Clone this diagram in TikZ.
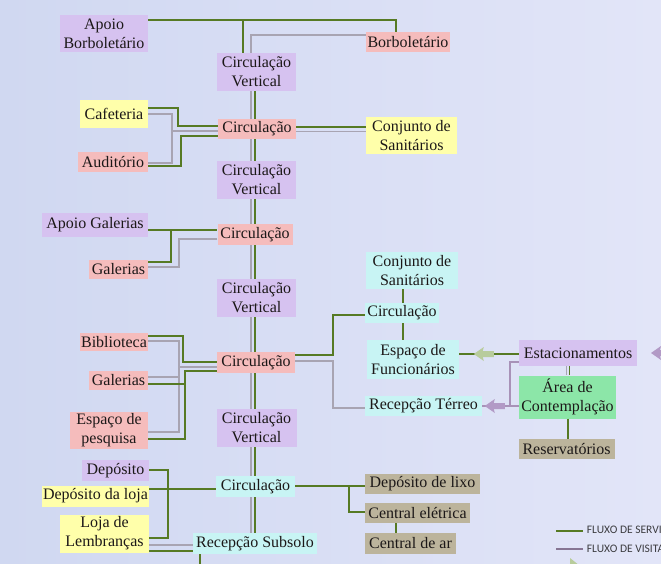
\documentclass[tikz,border=0pt]{standalone}
\usepackage{fontspec}
\setmainfont{Liberation Serif}
\newfontfamily\legfont{Carlito}
\usetikzlibrary{decorations.markings}
\definecolor{bgA}{RGB}{208,216,241}
\definecolor{bgB}{RGB}{226,229,248}
\definecolor{cPurple}{RGB}{214,194,240}
\definecolor{cPink}{RGB}{245,188,188}
\definecolor{cYellow}{RGB}{255,255,170}
\definecolor{cCyan}{RGB}{200,244,244}
\definecolor{cTan}{RGB}{188,180,156}
\definecolor{cGreen}{RGB}{140,230,168}
\definecolor{lnG}{RGB}{86,122,36}
\definecolor{lnY}{RGB}{168,164,178}
\definecolor{lnM}{RGB}{168,146,184}
\definecolor{arG}{RGB}{184,204,156}
\definecolor{arM}{RGB}{178,154,198}
\definecolor{txt}{RGB}{28,24,24}
\definecolor{legtxt}{RGB}{60,60,64}
\begin{document}
\begin{tikzpicture}[x=1pt,y=-1pt,
  box/.style={inner sep=0pt, align=center, font=\fontsize{16}{19}\selectfont, text=txt},
  sz/.style 2 args={minimum width=#1pt, minimum height=#2pt},
  pu/.style={box, fill=cPurple},
  pk/.style={box, fill=cPink},
  ye/.style={box, fill=cYellow},
  cy/.style={box, fill=cCyan},
  tn/.style={box, fill=cTan},
  gr/.style={box, fill=cGreen},
  gl/.style={draw=lnG, line width=2.4pt},
  yl/.style={draw=lnY, line width=1.2pt},
  ml/.style={draw=lnM, line width=1.4pt},
  legtext/.style={anchor=west, inner sep=0pt, font=\legfont\fontsize{11.5}{13}\selectfont, text=legtxt},
]
\useasboundingbox (0,0) rectangle (661,564);
\clip (0,0) rectangle (661,564);
\shade[left color=bgA, right color=bgB] (0,0) rectangle (661,564);

% nodes
\node[pu, sz={88}{37}] (apb) at (104,33.5) {Apoio\\Borboletário};
\node[pk, sz={84}{20}] (borb) at (408,42) {Borboletário};
\node[pu, sz={79}{38}] (cv1) at (256.5,72) {Circulação\\Vertical};
\node[ye, sz={68}{28}] (caf) at (114,114) {Cafeteria};
\node[pk, sz={78}{20}] (c2) at (257,129) {Circulação};
\node[ye, sz={91}{37}] (cs1) at (411.5,135.5) {Conjunto de\\Sanitários};
\node[pk, sz={70}{20}] (aud) at (113,162) {Auditório};
\node[pu, sz={79}{38}] (cv2) at (256.5,180) {Circulação\\Vertical};
\node[pu, sz={106}{24}] (apg) at (95,225) {Apoio Galerias};
\node[pk, sz={75}{21}] (c3) at (255,234.5) {Circulação};
\node[pk, sz={59}{19}] (gal1) at (118.5,269.5) {Galerias};
\node[pu, sz={79}{38}] (cv3) at (256.5,298) {Circulação\\Vertical};
\node[pk, sz={68}{18}] (bib) at (114,342) {Biblioteca};
\node[pk, sz={78}{21}] (c4) at (256,362.5) {Circulação};
\node[pk, sz={59}{19}] (gal2) at (118.5,380.5) {Galerias};
\node[pk, sz={78}{37}] (esp) at (109,430.5) {Espaço de\\pesquisa};
\node[pu, sz={80}{38}] (cv4) at (256.5,428) {Circulação\\Vertical};
\node[pu, sz={67}{21}] (dep) at (115.5,470.5) {Depósito};
\node[ye, sz={107}{21}] (depl) at (95.5,496) {Depósito da loja};
\node[ye, sz={89}{38}] (loja) at (104.5,533.5) {Loja de\\Lembranças};
\node[cy, sz={79}{21}] (c5) at (255.5,486.5) {Circulação};
\node[cy, sz={124}{21}] (recs) at (255,543.5) {Recepção Subsolo};
\node[tn, sz={115}{20}] (dlixo) at (422.5,484) {Depósito de lixo};
\node[tn, sz={105}{20}] (celet) at (417.5,513) {Central elétrica};
\node[tn, sz={91}{21}] (car) at (410.5,543.5) {Central de ar};
\node[cy, sz={92}{37}] (cs2) at (412,270.5) {Conjunto de\\Sanitários};
\node[cy, sz={74}{20}] (c6) at (402,313) {Circulação};
\node[cy, sz={92}{39}] (efunc) at (413,359.5) {Espaço de\\Funcionários};
\node[cy, sz={117}{20}] (rect) at (423.5,406) {Recepção Térreo};
\node[pu, sz={118}{26}] (est) at (578,353) {Estacionamentos};
\node[gr, sz={97}{43}] (area) at (567.5,397) {Área de\\Contemplação};
\node[tn, sz={96}{20}] (res) at (566.5,449) {Reservatórios};

% top connectors
\draw[gl] (apb.east |- 0,20) -| (borb.north -| 396,0);
\draw[gl] (cv1.north -| 243,0) -- (243,20);
\draw[yl] (cv1.north -| 251,0) |- (borb.west |- 0,35);

% spine
\foreach \a/\b in {cv1/c2,c2/cv2,cv2/c3,c3/cv3,cv3/c4,c4/cv4,cv4/c5,c5/recs}{
  \draw[yl] (\a.south -| 251,0) -- (\b.north -| 251,0);
  \draw[gl] (\a.south -| 255,0) -- (\b.north -| 255,0);
}

% circulacao 2
\draw[gl] (caf.east |- 0,108) -| (178,126) -- (c2.west |- 0,126);
\draw[gl] (aud.east |- 0,166) -| (181,136) -- (c2.west |- 0,136);
\draw[yl] (caf.east |- 0,114) -| (172,163) -- (aud.east |- 0,163);
\draw[yl] (172,131) -- (c2.west |- 0,131);
\draw[gl] (c2.east |- 0,127) -- (cs1.west |- 0,127);
\draw[yl] (c2.east |- 0,131.5) -- (cs1.west |- 0,131.5);

% circulacao 3
\draw[gl] (apg.east |- 0,230) -- (c3.west |- 0,230);
\draw[gl] (171,230) |- (gal1.east |- 0,262);
\draw[yl] (c3.west |- 0,239) -| (179,267) -- (gal1.east |- 0,267);

% circulacao 4 left
\draw[gl] (bib.east |- 0,336) -| (183,362) -- (c4.west |- 0,362);
\draw[yl] (bib.east |- 0,341) -| (179,432) -- (esp.east |- 0,432);
\draw[yl] (179,367) -- (c4.west |- 0,367);
\draw[yl] (gal2.east |- 0,377) -- (179,377);
\draw[gl] (c4.west |- 0,371) -| (185,439) -- (esp.east |- 0,439);
\draw[gl] (gal2.east |- 0,384) -- (185,384);

% circulacao 4 right
\draw[gl] (c4.east |- 0,355) -| (333,315) -- (c6.west |- 0,315);
\draw[yl] (c4.east |- 0,361) -| (333,408) -- (rect.west |- 0,408);
\draw[gl] (cs2.south -| 403,0) -- (c6.north -| 403,0);
\draw[gl] (c6.south -| 403,0) -- (efunc.north -| 403,0);

% estacionamentos
\draw[gl, decoration={markings, mark=at position 35pt with {
  \fill[arG] (10pt,0pt) -- (0pt,7pt) -- (1pt,3pt) -- (-10pt,3pt) -- (-10pt,-3pt) -- (1pt,-3pt) -- (0pt,-7pt) -- cycle;}},
  postaction=decorate] (est.west |- 0,354) -- (efunc.east |- 0,354);
\draw[ml, decoration={markings, mark=at position 68pt with {
  \fill[arM] (10pt,0pt) -- (0pt,7pt) -- (1pt,3pt) -- (-10pt,3pt) -- (-10pt,-3pt) -- (1pt,-3pt) -- (0pt,-7pt) -- cycle;}},
  postaction=decorate] (est.west |- 0,362) -| (510,406) -- (rect.east |- 0,406);
\draw[ml] (area.west |- 0,406) -- (510,406);
\draw[yl] (est.south -| 566.5,0) -- (area.north -| 566.5,0);
\draw[gl, line width=1.8pt] (est.south -| 569.5,0) -- (area.north -| 569.5,0);
\draw[gl] (area.south -| 568,0) -- (res.north -| 568,0);
% arrow entering from the right edge
\fill[arM] (651,353) -- (661,346) -- (660,350) -- (672,350) -- (672,356) -- (660,356) -- (661,360) -- cycle;

% circulacao 5
\draw[gl] (dep.east |- 0,470) -| (168,538) -- (loja.east |- 0,538);
\draw[gl] (depl.east |- 0,489) -- (c5.west |- 0,489);
\draw[yl] (loja.east |- 0,545) -- (recs.west |- 0,545);
\draw[gl] (loja.east |- 0,551) -- (recs.west |- 0,551);
\draw[gl] (c5.east |- 0,486) -- (dlixo.west |- 0,486);
\draw[gl] (349,486) |- (celet.west |- 0,512);
\draw[gl] (celet.south -| 396,0) -- (car.north -| 396,0);
\draw[gl, line width=1.8pt] (recs.south -| 200,0) -- (200,570);

% legend
\draw[gl, line width=1.8pt] (556,531) -- (583,531) node[legtext, xshift=3pt] (lg1) {FLUXO DE SERVIÇO};
\draw[draw=lnM!80!black, line width=1.8pt] (556,549) -- (583,549) node[legtext, xshift=3pt] (lg2) {FLUXO DE VISITANTES};
\fill[arG] (570,558) -- (580,566) -- (570,574) -- cycle;
\end{tikzpicture}
\end{document}
